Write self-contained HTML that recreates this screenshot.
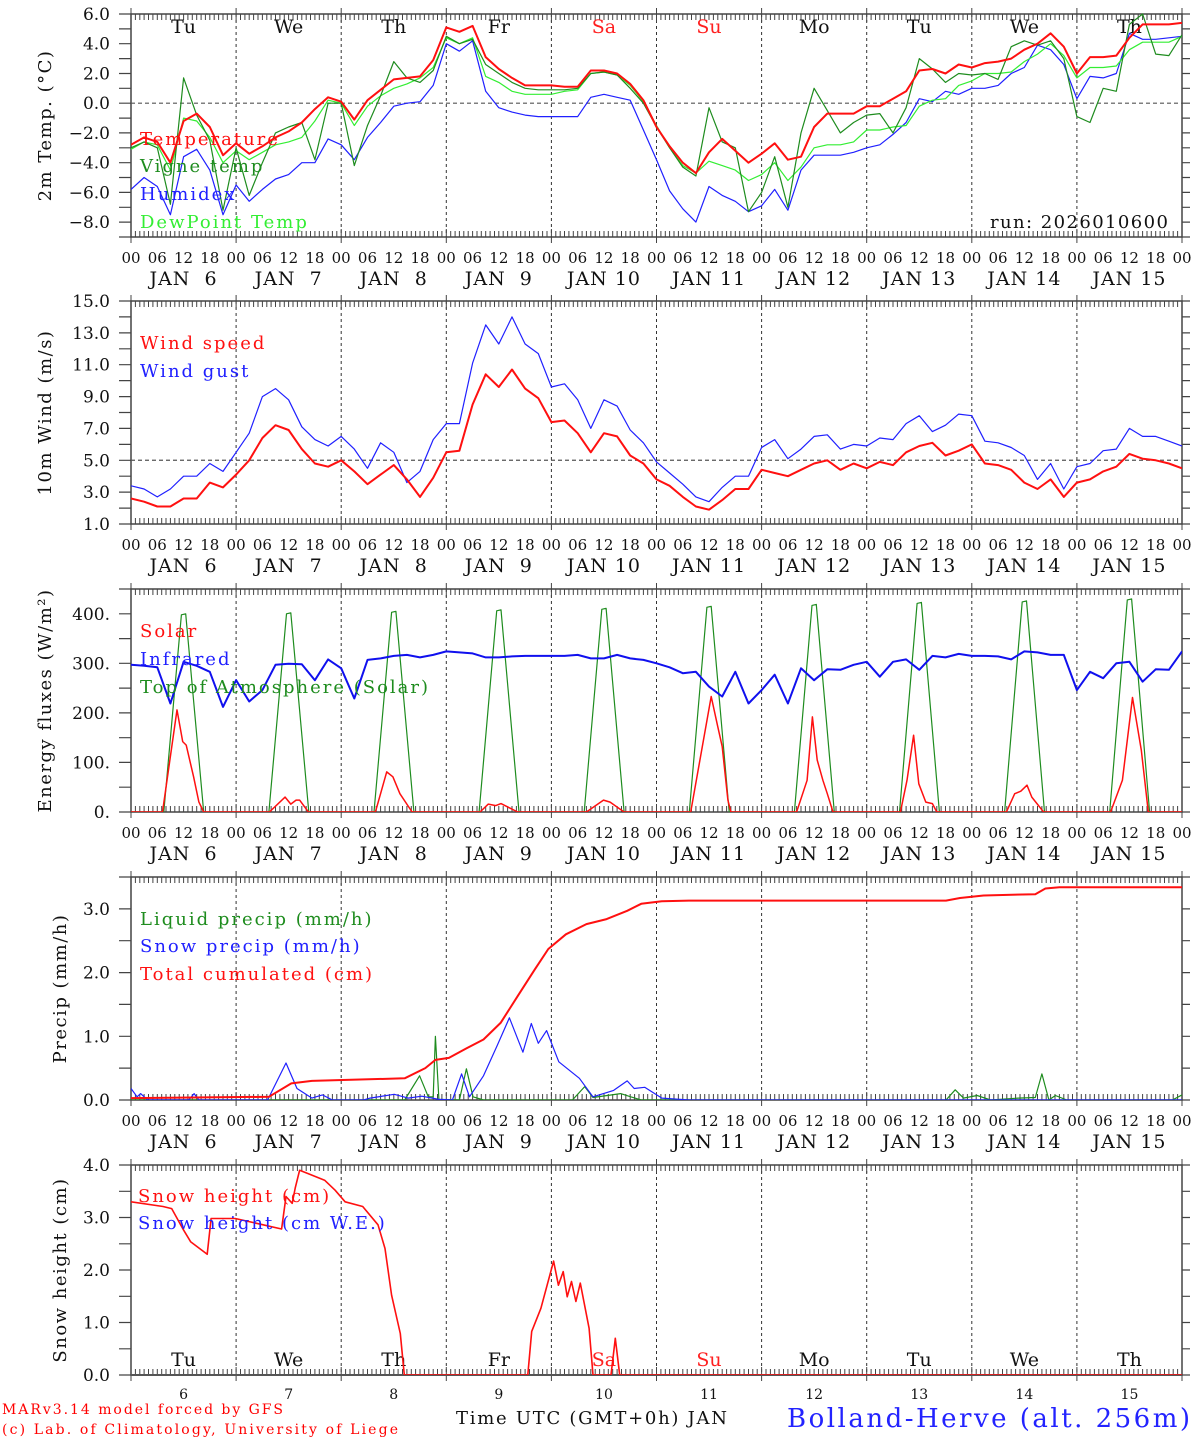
<!DOCTYPE html>
<html>
<head>
<meta charset="utf-8">
<style>
html,body{margin:0;padding:0;background:#fff;}
svg{display:block;}
text{font-family:"DejaVu Serif","Liberation Serif",serif;}
</style>
</head>
<body>
<svg id="chart" width="1194" height="1440" viewBox="0 0 1194 1440" xmlns="http://www.w3.org/2000/svg">
<rect x="0" y="0" width="1194" height="1440" fill="#fff"/>
<g id="layer"></g>
<text x="2" y="1414" font-size="14" fill="#ff0000" textLength="281" lengthAdjust="spacing">MARv3.14 model forced by GFS</text>
<text x="2" y="1434" font-size="14" fill="#ff0000" textLength="396" lengthAdjust="spacing">(c) Lab. of Climatology, University of Liege</text>
<text x="456" y="1424" font-size="18" fill="#111" textLength="271" lengthAdjust="spacing">Time UTC (GMT+0h) JAN</text>
<text x="787" y="1427" font-size="26" fill="#2323ff" textLength="403" lengthAdjust="spacing">Bolland-Herve (alt. 256m)</text>
<text x="990" y="228" font-size="18" fill="#111" textLength="178" lengthAdjust="spacing">run: 2026010600</text>
</svg>
<script>
// ---------- data ----------
const weekdays = ["Tu","We","Th","Fr","Sa","Su","Mo","Tu","We","Th"];
const dayNumbers = ["6","7","8","9","10","11","12","13","14","15"];
const hourLabels = ["00","06","12","18"];

const tempValues = [-2.8,-2.3,-2.6,-4.0,-1.2,-0.7,-1.6,-3.5,
 -2.7,-3.4,-2.9,-2.3,-1.9,-1.3,-0.4,0.4,
 0.1,-1.1,0.2,0.9,1.6,1.7,1.8,2.9,
 5.1,4.8,5.2,3.1,2.3,1.7,1.2,1.2,
 1.2,1.1,1.1,2.2,2.2,2.0,1.3,0.2,
 -1.6,-2.9,-4.0,-4.7,-3.3,-2.4,-3.2,-4.0,
 -3.4,-2.7,-3.8,-3.6,-1.6,-0.7,-0.7,-0.7,
 -0.2,-0.2,0.3,0.8,2.2,2.3,2.0,2.6,
 2.4,2.7,2.8,3.0,3.6,4.0,4.7,3.8,
 2.0,3.1,3.1,3.2,4.4,5.3,5.3,5.3,5.4];
const vigneValues = [-3.0,-2.6,-3.0,-6.8,1.7,-0.8,-2.5,-7.2,
 -3.0,-6.2,-4.0,-2.0,-1.6,-1.3,-3.8,0.0,
 0.0,-4.2,-1.5,0.5,2.8,1.7,1.4,2.2,
 4.5,4.0,4.3,2.6,2.0,1.4,1.0,0.9,
 0.9,0.9,1.0,2.0,2.1,1.9,1.0,0.0,
 -1.6,-3.0,-4.3,-4.9,-0.3,-2.6,-3.0,-7.3,
 -6.0,-3.6,-7.0,-2.0,1.0,-0.5,-2.0,-1.3,
 -0.8,-0.7,-2.0,-0.3,3.0,2.3,1.4,2.0,
 1.9,2.0,1.6,3.8,4.2,3.9,4.2,3.0,
 -0.9,-1.3,1.0,0.8,5.3,6.0,3.3,3.2,4.6];
const dewValues = [-3.1,-2.6,-2.8,-4.5,-1.0,-1.2,-2.3,-4.0,
 -3.2,-3.8,-3.3,-2.8,-2.6,-2.3,-1.2,0.2,
 0.0,-1.5,-0.2,0.5,1.0,1.3,1.7,2.4,
 4.4,4.0,4.4,1.8,1.4,0.8,0.6,0.6,
 0.6,0.8,0.9,2.0,2.1,1.9,1.2,0.1,
 -1.5,-3.0,-4.2,-4.7,-3.9,-4.2,-4.5,-5.2,
 -4.8,-4.0,-5.2,-4.3,-3.0,-2.8,-2.8,-2.6,
 -1.8,-1.8,-1.6,-1.5,-0.2,0.2,0.3,1.2,
 1.5,2.0,2.0,2.1,2.8,3.3,4.0,3.2,
 1.7,2.4,2.4,2.5,3.6,4.1,4.1,4.1,4.5];
const humidexValues = [-5.8,-5.0,-5.6,-7.5,-3.6,-3.1,-4.5,-7.5,
 -5.5,-6.6,-5.8,-5.1,-4.8,-4.0,-4.0,-2.4,
 -2.8,-3.8,-2.3,-1.3,-0.2,0.0,0.1,1.2,
 4.0,3.5,4.2,0.8,-0.3,-0.6,-0.8,-0.9,
 -0.9,-0.9,-0.9,0.4,0.6,0.4,0.2,-1.8,
 -3.8,-5.9,-7.1,-8.0,-5.6,-6.2,-6.6,-7.3,
 -6.9,-5.8,-7.2,-4.5,-3.5,-3.5,-3.5,-3.3,
 -3.0,-2.8,-2.1,-1.3,0.3,0.1,0.8,0.6,
 1.0,1.0,1.2,2.0,2.4,3.9,3.6,2.6,
 0.3,1.8,1.7,2.0,4.7,4.3,4.3,4.4,4.5];

const windValues = [2.6,2.4,2.1,2.1,2.6,2.6,3.6,3.3,
 4.1,5.0,6.4,7.2,6.9,5.7,4.8,4.6,
 5.0,4.3,3.5,4.1,4.7,3.8,2.7,3.9,
 5.5,5.6,8.5,10.4,9.6,10.7,9.5,8.9,
 7.4,7.5,6.7,5.5,6.7,6.5,5.3,4.8,
 3.8,3.4,2.7,2.1,1.9,2.5,3.2,3.2,
 4.4,4.2,4.0,4.4,4.8,5.0,4.4,4.8,
 4.5,4.9,4.7,5.5,5.9,6.1,5.3,5.6,
 6.0,4.8,4.7,4.4,3.6,3.2,3.8,2.7,
 3.6,3.8,4.3,4.6,5.4,5.1,5.0,4.8,4.5];
const gustValues = [3.4,3.2,2.7,3.2,4.0,4.0,4.8,4.3,
 5.5,6.7,9.0,9.5,8.8,7.1,6.3,5.9,
 6.5,5.7,4.5,6.1,5.5,3.6,4.3,6.3,
 7.3,7.3,11.1,13.5,12.3,14.0,12.3,11.7,
 9.6,9.8,8.8,7.0,8.8,8.4,6.9,6.1,
 4.9,4.2,3.5,2.7,2.4,3.3,4.0,4.0,
 5.8,6.3,5.1,5.7,6.5,6.6,5.7,6.0,
 5.9,6.4,6.3,7.3,7.8,6.8,7.2,7.9,
 7.8,6.2,6.1,5.8,5.3,3.8,4.8,3.2,
 4.6,4.8,5.6,5.7,7.0,6.5,6.5,6.2,5.9];

const infraredValues = [297,295,292,219,303,295,283,212,
 266,223,246,297,299,298,266,308,
 290,229,307,310,315,317,312,317,
 324,322,320,312,312,314,315,315,
 315,315,317,310,310,317,310,307,
 300,292,280,283,253,233,283,219,
 246,277,219,290,266,288,287,297,
 303,273,303,308,287,315,312,319,
 315,315,314,308,324,322,317,317,
 246,283,270,300,303,263,288,287,324];
const solarTimes = [0,7.2,10.5,11.8,12.6,14.3,15.5,16.6,
 31.6,35.2,36.5,37.7,38.5,40.5,
 55.8,58.4,59.8,61.4,64.2,
 79.7,81.6,83.3,84.5,88.3,
 104,107.9,109.4,112.6,
 127.8,132.5,134,135,136.3,137,
 152,154.4,155.6,156.7,158,159,160.3,
 175.7,177.2,178.7,179.9,181.5,183,184,
 199.9,201.8,203.2,204.6,205.7,208.4,
 223.7,226.4,228.7,230.7,232.3,240];
const solarValues = [0,0,206,142,135,71,20,0,
 0,30,16,24,24,0,
 0,81,71,37,0,
 0,16,13,17,0,
 0,24,20,0,
 0,233,172,132,24,0,
 0,64,192,105,64,37,0,
 0,64,155,57,20,17,0,
 0,37,42,54,30,0,
 0,64,231,125,0,0];
const toaTimes = [0,7.5,11.5,12.5,16.6, 31.5,35.5,36.5,40.6, 55.5,59.5,60.5,64.6,
 79.5,83.5,84.5,88.6, 103.5,107.5,108.5,112.6, 127.5,131.5,132.5,136.6,
 151.5,155.5,156.5,160.6, 175.5,179.5,180.5,184.6, 199.5,203.5,204.5,208.6,
 223.5,227.5,228.5,232.6, 240];
const toaValues = [0,0,398,400,0, 0,400,402,0, 0,403,405,0,
 0,406,408,0, 0,409,411,0, 0,413,415,0,
 0,417,419,0, 0,421,423,0, 0,424,426,0,
 0,428,430,0, 0];

const cumulTimes = [0,31.5,36.6,41.3,62.5,67.2,69.5,72.6,76.6,80.5,84.4,88.3,92.2,95.3,99.3,104,108.6,113.3,116.5,121.2,127.4,186.1,189.3,194.7,206.5,208.8,212,240];
const cumulValues = [0.03,0.05,0.26,0.30,0.34,0.50,0.63,0.66,0.81,0.95,1.21,1.63,2.05,2.37,2.60,2.76,2.84,2.97,3.08,3.12,3.13,3.13,3.17,3.21,3.23,3.32,3.34,3.34];
const snowPrecipTimes = [0,1.4,2.2,3.8,13.2,14.4,15.5,31.2,35.4,37.9,41.3,43.7,46,53.1,54.6,60.1,63.3,66.4,70.3,73.4,75.5,77.3,80.5,83.6,86.4,89.5,91.4,93,94.9,97.7,102.4,105.5,110.2,113.3,114.9,117.3,121.2,127.4,240];
const snowPrecipValues = [0.18,0.05,0.1,0,0,0.1,0,0,0.58,0.18,0.03,0.08,0,0,0.03,0.09,0.03,0.06,0.01,0,0.41,0.05,0.38,0.85,1.29,0.75,1.2,0.89,1.09,0.6,0.34,0.05,0.15,0.3,0.18,0.2,0.03,0,0];
const liquidTimes = [0,62.5,65.9,67.9,69,69.5,70.3,75,76.6,78.1,80.5,100.8,103.6,105.5,111.8,114.1,116.5,186.1,188.2,190.1,193.2,196.3,202.6,206.5,208,209.6,211.1,213.7,237.8,240];
const liquidValues = [0,0,0.38,0.05,0.05,1.0,0.01,0,0.49,0.05,0,0,0.21,0.04,0.1,0.05,0,0,0.16,0.03,0.07,0,0.03,0.04,0.41,0,0.07,0,0,0.08];

const snowHeightTimes = [0,7.3,9.3,12,13.6,17.4,18.3,23.8,34.4,35.4,36.8,37.5,38.5,40.3,44.2,46.6,48.9,52.9,56.4,58,59.5,61.5,62.4,90.6,91.5,93.6,96.5,97.6,98.7,99.6,100.6,101.6,102.6,104.6,105.5,109.6,110.6,111.6,240];
const snowHeightValues = [3.30,3.21,3.17,2.76,2.54,2.30,2.98,2.98,2.78,3.40,3.27,3.56,3.90,3.84,3.71,3.52,3.30,3.21,2.86,2.41,1.52,0.79,0,0,0.83,1.27,2.17,1.71,1.97,1.49,1.78,1.40,1.75,0.89,0,0,0.70,0,0];
const snowWETimes = [0,240];
const snowWEValues = [0,0];

const p1Ticks = ["6.0","4.0","2.0","0.0","-2.0","-4.0","-6.0","-8.0"];
const p2Ticks = ["15.0","13.0","11.0","9.0","7.0","5.0","3.0","1.0"];
const p3Ticks = ["400.","300.","200.","100.","0."];
const p4Ticks = ["3.0","2.0","1.0","0.0"];
const p5Ticks = ["4.0","3.0","2.0","1.0","0.0"];

// ---------- layout ----------
const NS = "http://www.w3.org/2000/svg";
const layer = document.getElementById('layer');
const X0 = 131, DAYW = 105.1, NDAYS = 10;
function xh(t){ return X0 + t/24*DAYW; }
const panels = [
 {top:14, bot:237, min:-9, max:6, minor:1, ticks:p1Ticks, title:"2m Temp. (°C)", tx:45, name:"temperature"},
 {top:301, bot:524, min:1, max:15, minor:1, ticks:p2Ticks, title:"10m Wind (m/s)", tx:45, name:"wind"},
 {top:589, bot:812, min:0, max:450, minor:50, ticks:p3Ticks, title:"Energy fluxes (W/m²)", tx:45, name:"energy"},
 {top:877, bot:1100, min:0, max:3.5, minor:0.5, ticks:p4Ticks, title:"Precip (mm/h)", tx:60, name:"precip"},
 {top:1165, bot:1375, min:0, max:4, minor:0.5, ticks:p5Ticks, title:"Snow height (cm)", tx:60, name:"snow"}
];
function yv(p,v){ return p.top + (p.max - v)/(p.max - p.min)*(p.bot - p.top); }
function mk(tag, attrs, parent){
  const el = document.createElementNS(NS, tag);
  for (const k in attrs) el.setAttribute(k, attrs[k]);
  (parent||layer).appendChild(el);
  return el;
}
function polyline(p, times, vals, color, w, name){
  let pts = [];
  for (let i=0;i<vals.length;i++) pts.push(xh(times[i]).toFixed(1)+","+yv(p,vals[i]).toFixed(1));
  const el = mk('polyline', {points:pts.join(' '), fill:'none', stroke:color, 'stroke-width':w, 'stroke-linejoin':'round', 'clip-path':'url(#clip'+panels.indexOf(p)+')'});
  
  
  return el;
}
function series3h(vals){ return vals.map((v,i)=>i*3); }
function legend(x, y, txt, color, name){
  const el = mk('text', {x:x, y:y, 'font-size':18, fill:color, 'letter-spacing':2});
  el.textContent = txt;
  
  
}

const defs = mk('defs', {});
panels.forEach((p,pi)=>{
  const cp = mk('clipPath', {id:'clip'+pi}, defs);
  mk('rect', {x:X0, y:p.top-2, width:NDAYS*DAYW, height:p.bot-p.top+2}, cp);
});

panels.forEach((p,pi)=>{
  const g = mk('g', {});
  
  
  const R = X0 + NDAYS*DAYW;
  for (let d=1; d<NDAYS; d++){
    const l = mk('line', {x1:xh(d*24), x2:xh(d*24), y1:p.top, y2:p.bot, stroke:'#333', 'stroke-width':1, 'stroke-dasharray':'3,3'}, g);
    
    
  }
  let dpath = '';
  for (let h=0; h<=NDAYS*24; h++){
    const x = xh(h).toFixed(1);
    const isDay = h%24===0;
    const len = isDay ? 8 : 6;
    dpath += `M${x},${p.top - (isDay?6:0)}v${len+(isDay?6:0)}M${x},${p.bot + (isDay?6:0)}v${-len-(isDay?6:0)}`;
  }
  const tk = mk('path', {d:dpath, stroke:'#444', 'stroke-width':1, fill:'none'}, g);
  
  
  let ypath = '';
  for (let v=p.min; v<=p.max+1e-9; v+=p.minor){
    const y = yv(p,v).toFixed(1);
    ypath += `M${X0-12},${y}h12M${R},${y}h8`;
  }
  const yt = mk('path', {d:ypath, stroke:'#444', 'stroke-width':1.2, fill:'none'}, g);
  
  
  const fr = mk('rect', {x:X0, y:p.top, width:NDAYS*DAYW, height:p.bot-p.top, fill:'none', stroke:'#444', 'stroke-width':1.5}, g);
  
  
  p.ticks.forEach(t=>{
    const v = parseFloat(t);
    const el = mk('text', {x:110, y:yv(p,v)+6, 'font-size':17, fill:'#111', 'text-anchor':'end'}, g);
    el.textContent = t.replace('-', '\u2212');
    
    
  });
  const cy = (p.top+p.bot)/2;
  const at = mk('text', {x:p.tx, y:cy, 'font-size':18, fill:'#111', 'text-anchor':'middle', 'letter-spacing':1.5, transform:`rotate(-90 ${p.tx} ${cy}) translate(0 6)`}, g);
  at.textContent = p.title;
  
  
  if (pi < 4){
    for (let d=0; d<=NDAYS; d++){
      for (let k=0;k<hourLabels.length;k++){
        if (d===NDAYS && k>0) break;
        const el = mk('text', {x:xh(d*24+k*6), y:p.bot+26, 'font-size':15, fill:'#111', 'text-anchor':'middle'}, g);
        el.textContent = hourLabels[k];
        
        
      }
    }
    for (let d=0; d<NDAYS; d++){
      const el = mk('text', {x:xh(d*24+12), y:p.bot+48, 'font-size':19, fill:'#111', 'text-anchor':'middle', 'xml:space':'preserve', 'letter-spacing':1}, g);
      el.textContent = 'JAN ' + (dayNumbers[d].length<2 ? '\u00a0' : '') + dayNumbers[d];
      
      
    }
  }
});

[[0,0],[1,5]].forEach(([pi,v])=>{
  const p = panels[pi];
  const l = mk('line', {x1:X0, x2:X0+NDAYS*DAYW, y1:yv(p,v), y2:yv(p,v), stroke:'#555', 'stroke-width':1.2, 'stroke-dasharray':'4,3'});
  
  
});

weekdays.forEach((w,d)=>{
  const col = (w==='Sa'||w==='Su') ? '#ff2020' : '#111';
  const a = mk('text', {x:xh(d*24+12), y:33, 'font-size':19, fill:col, 'text-anchor':'middle'});
  a.textContent = w;
  
  
  const b = mk('text', {x:xh(d*24+12), y:1366, 'font-size':19, fill:col, 'text-anchor':'middle'});
  b.textContent = w;
  
  
  const c = mk('text', {x:xh(d*24+12), y:1399, 'font-size':14, fill:'#111', 'text-anchor':'middle'});
  c.textContent = dayNumbers[d];
  
  
});

// ---------- series ----------
const P = panels;
polyline(P[0], series3h(humidexValues), humidexValues, '#2020ff', 1.2, 'humidex-line');
polyline(P[0], series3h(dewValues), dewValues, '#33ee33', 1.2, 'dewpoint-line');
polyline(P[0], series3h(vigneValues), vigneValues, '#1e8c1e', 1.2, 'vigne-temp-line');
polyline(P[0], series3h(tempValues), tempValues, '#ff1010', 2, 'temperature-line');
legend(140, 145, 'Temperature', '#ff1010', 'legend-temperature');
legend(140, 172, 'Vigne temp', '#1e8c1e', 'legend-vigne-temp');
legend(140, 200, 'Humidex', '#2020ff', 'legend-humidex');
legend(140, 228, 'DewPoint Temp', '#33ee33', 'legend-dewpoint');

polyline(P[1], series3h(gustValues), gustValues, '#2020ff', 1.2, 'wind-gust-line');
polyline(P[1], series3h(windValues), windValues, '#ff1010', 2, 'wind-speed-line');
legend(140, 349, 'Wind speed', '#ff1010', 'legend-wind-speed');
legend(140, 377, 'Wind gust', '#2020ff', 'legend-wind-gust');

polyline(P[2], toaTimes, toaValues, '#1e8c1e', 1.2, 'toa-solar-line');
polyline(P[2], solarTimes, solarValues, '#ff1010', 1.5, 'solar-line');
polyline(P[2], series3h(infraredValues), infraredValues, '#1010ee', 2, 'infrared-line');
legend(140, 637, 'Solar', '#ff1010', 'legend-solar');
legend(140, 665, 'Infrared', '#2020ff', 'legend-infrared');
legend(140, 693, 'Top of Atmosphere (Solar)', '#1e8c1e', 'legend-toa-solar');

polyline(P[3], liquidTimes, liquidValues, '#1e8c1e', 1.2, 'liquid-precip-line');
polyline(P[3], snowPrecipTimes, snowPrecipValues, '#2020ff', 1.2, 'snow-precip-line');
polyline(P[3], cumulTimes, cumulValues, '#ff1010', 2, 'total-cumulated-line');
legend(140, 925, 'Liquid precip (mm/h)', '#1e8c1e', 'legend-liquid-precip');
legend(140, 952, 'Snow precip (mm/h)', '#2020ff', 'legend-snow-precip');
legend(140, 980, 'Total cumulated (cm)', '#ff1010', 'legend-total-cumulated');

polyline(P[4], snowWETimes, snowWEValues, '#2020ff', 1, 'snow-we-line');
const baseLine = mk('line', {x1:X0, x2:X0+NDAYS*DAYW, y1:P[4].bot, y2:P[4].bot, stroke:'#555', 'stroke-width':2});


polyline(P[4], snowHeightTimes, snowHeightValues, '#ff1010', 1.6, 'snow-height-line');
legend(138, 1202, 'Snow height (cm)', '#ff1010', 'legend-snow-height');
legend(138, 1229, 'Snow height (cm W.E.)', '#2020ff', 'legend-snow-we');
</script>
</body>
</html>
